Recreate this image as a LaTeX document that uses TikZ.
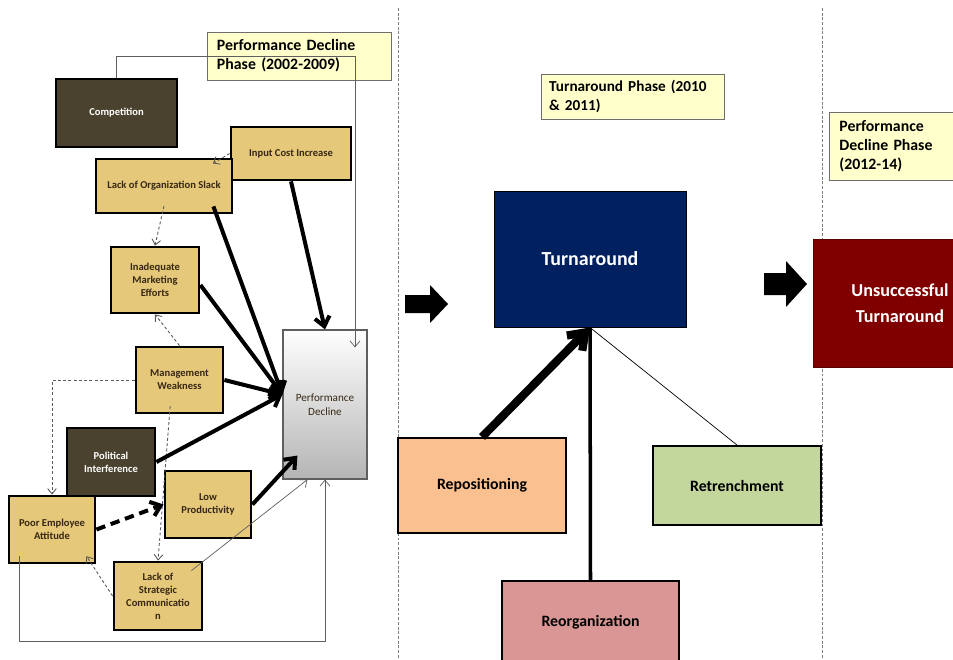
\documentclass[tikz,border=0pt]{standalone}
\usepackage{fontspec}
\setmainfont{Carlito}
\usepackage{tikz}
\usetikzlibrary{arrows.meta}
\usetikzlibrary{calc}
\definecolor{tanfill}{RGB}{229,200,122}
\definecolor{olivedark}{RGB}{74,66,46}
\definecolor{factortext}{RGB}{55,40,20}
\definecolor{phasefill}{RGB}{255,255,204}
\definecolor{phaseline}{RGB}{110,110,110}
\definecolor{navyfill}{RGB}{0,32,96}
\definecolor{failred}{RGB}{128,0,0}
\definecolor{orangefill}{RGB}{250,192,144}
\definecolor{greenfill}{RGB}{195,214,155}
\definecolor{pinkfill}{RGB}{217,150,148}
\definecolor{declinegray}{RGB}{180,180,180}
\definecolor{feedgray}{RGB}{95,95,95}
\tikzset{
  wh/.style 2 args={minimum width=#1*0.03cm, minimum height=#2*0.03cm}, % Breite/Hoehe in Pixeln
  factor/.style={draw=black, line width=2.4pt, fill=tanfill, text=factortext,
    font=\fontsize{9}{11}\selectfont\bfseries, align=center, inner sep=2pt},
  darkfactor/.style={factor, fill=olivedark, text=white},
  decline/.style={draw=feedgray, line width=1pt, top color=white, bottom color=declinegray,
    text=factortext, font=\fontsize{9.5}{11.5}\selectfont, align=center},
  phase/.style={draw=phaseline, line width=0.8pt, fill=phasefill, align=left,
    font=\fontsize{13.5}{16}\selectfont\bfseries, inner xsep=0.3cm},
  strategy/.style={draw=black, line width=1.7pt, font=\fontsize{13.5}{16}\selectfont\bfseries, align=center},
  heavy/.style={line width=3.4pt, -{Straight Barb[length=2.8mm,width=4.5mm]}},
  hint/.style={dashed, dash pattern=on 2.5pt off 2pt, line width=0.75pt, gray!70!black,
    -{Straight Barb[length=1.6mm,width=2.6mm]}},
  feed/.style={feedgray, line width=0.6pt, -{Straight Barb[length=1.8mm,width=3mm]}},
  sep/.style={gray, line width=0.8pt, dash pattern=on 2.5pt off 1.5pt}
}

\begin{document}
\begin{tikzpicture}[x=0.03cm, y=-0.03cm]
\clip (0,0) rectangle (953,659);
\fill[white] (0,0) rectangle (953,659);

% Phasengrenzen
\draw[sep] (398,8) -- (398,659);
\draw[sep] (822,8) -- (822,659);

% Einflussfaktoren
\node[darkfactor, wh={121}{68}] (comp) at (116.5,113) {Competition};
\node[factor, wh={120}{53}] (inp) at (291,153.5) {Input Cost Increase};
\node[factor, wh={136}{54}] (lack) at (164,186) {Lack of Organization Slack};
\node[factor, wh={88}{66}] (inad) at (155,280) {Inadequate\\Marketing\\Efforts};
\node[factor, wh={87}{66}] (mgmt) at (179.5,380) {Management\\Weakness};
\node[darkfactor, wh={88}{68}] (pol) at (111,462) {Political\\Interference};
\node[factor, wh={86}{67}] (poor) at (52,529.5) {Poor Employee\\Attitude};
\node[factor, wh={86}{67}] (low) at (208,504.5) {Low\\Productivity};
\node[factor, wh={88}{68}] (strat) at (158,596) {Lack of\\Strategic\\Communicatio\\n};
\node[decline, wh={84}{149}] (pd) at (325,404.5) {Performance\\Decline};

% Phasen
\node[phase, text width=4.92cm, wh={184}{48}] (ph1) at (299,56) {Performance Decline\\Phase (2002-2009)};
\node[phase, text width=5.0cm, inner xsep=0.24cm, font=\fontsize{13}{16}\selectfont\bfseries,
  wh={183}{45}] (ph2) at (632.5,96.5) {Turnaround Phase (2010\\\& 2011)};
\node[phase, text width=3.66cm, wh={140}{68}, anchor=west] (ph3) at (829,146) {Performance\\Decline Phase\\(2012-14)};

% Strategien
\node[strategy, draw=black, line width=0.8pt, fill=navyfill, text=white, font=\fontsize{17}{20}\selectfont\bfseries,
  wh={192}{136}] (turn) at (590,259) {Turnaround};
\node[strategy, draw=failred!70!black, line width=0.8pt, fill=failred, text=white, font=\fontsize{15.5}{22}\selectfont\bfseries,
  wh={174}{128}] (fail) at (900,303) {Unsuccessful\\Turnaround};
\node[strategy, fill=orangefill, wh={168}{95}] (rep) at (482,485.5) {Repositioning};
\node[strategy, fill=greenfill, wh={168}{79}] (ret) at (737,485.5) {Retrenchment};
\node[strategy, fill=pinkfill, wh={177}{82}] (reorg) at (590.5,622) {Reorganization};

% Phasenpfeile
\fill (405,295) -- (430,295) -- (430,285) -- (448,304) -- (430,323) -- (430,313) -- (405,313) -- cycle;
\fill (764,273) -- (786,273) -- (786,261) -- (807,284) -- (786,307) -- (786,295) -- (764,295) -- cycle;

% Rueckkopplungen
\coordinate (top) at (355,56);
\coordinate (loop) at (325,641);
\draw[feed] (comp.north) |- (top) -- ($(pd.north -| top)+(0,18)$);
\draw[feed] ([xshift=0.36cm,yshift=0.24cm]poor.south west) |- (loop) -- (pd.south);
\draw[feed] ([xshift=-0.36cm,yshift=-0.3cm]strat.north east) -- ([xshift=0.75cm]pd.south west);

% Wechselwirkungen
\draw[hint] (inp.west) -- ([xshift=-0.5cm,yshift=-0.3cm]inp.west);
\draw[hint] ([yshift=0.25cm]lack.south) -- (inad.north);
\draw[hint] (mgmt.north) -- (inad.south);
\draw[hint] (mgmt.west) -| (poor.north);
\draw[hint] ([xshift=-0.28cm,yshift=0.24cm]mgmt.south) -- (strat.north);
\draw[hint] (strat.west) -- ([xshift=-0.3cm,yshift=0.25cm]poor.south east);
\draw[line width=3.4pt, dash pattern=on 8pt off 5pt, -{Straight Barb[length=2.8mm,width=4.5mm]}] (poor.east) -- (low.west);

% Hauptursachen
\coordinate (pdin) at ([yshift=0.3cm]pd.west);
\draw[heavy] (inp.south) -- (pd.north);
\draw[heavy] ([xshift=-0.6cm,yshift=0.24cm]lack.south east) -- (pdin);
\draw[heavy] ([yshift=-0.15cm]inad.east) -- (pdin);
\draw[heavy] (mgmt.east) -- (pdin);
\draw[heavy] (pol.east) -- (pdin);
\draw[heavy] (low.east) -- ([xshift=0.45cm,yshift=0.72cm]pd.south west);

% Turnaround-Strategien
\draw[line width=7pt, -{Straight Barb[length=4.5mm,width=6.5mm]}] (rep.north) -- (turn.south);
\draw[line width=3pt] (reorg.north) -- (turn.south);
\draw[line width=0.6pt] (ret.north) -- (turn.south);
\end{tikzpicture}
\end{document}
